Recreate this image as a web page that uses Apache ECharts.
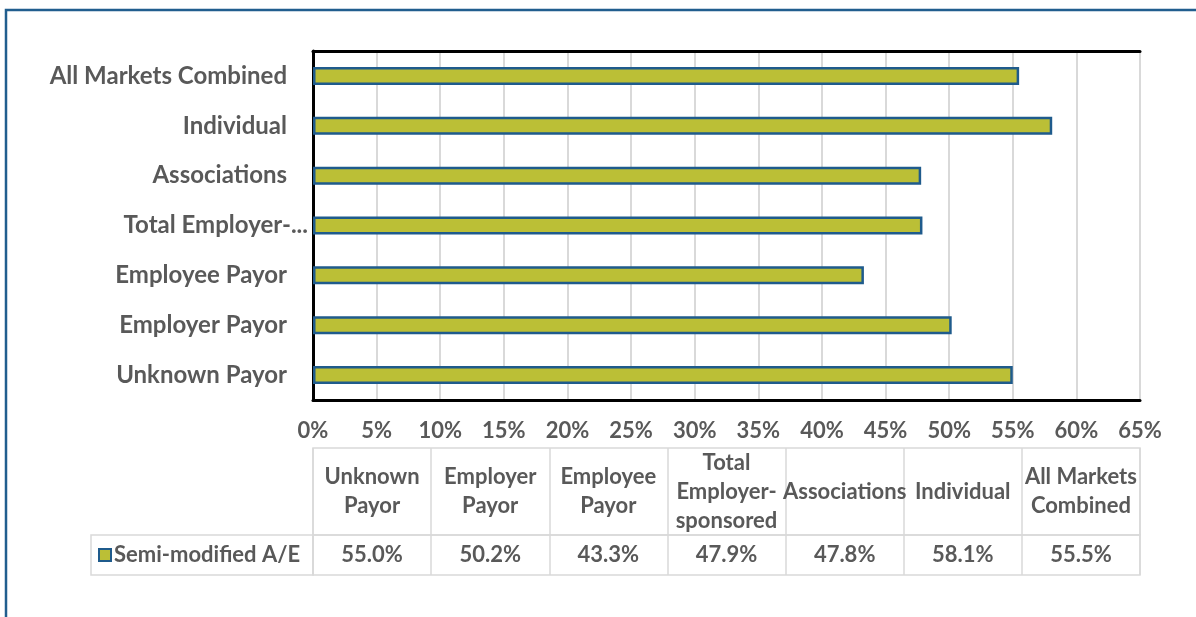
<!DOCTYPE html>
<html>
<head>
<meta charset="utf-8">
<script src="https://cdn.jsdelivr.net/npm/echarts@6/dist/echarts.min.js"></script>
<style>
html,body{margin:0;padding:0;background:#fff;}
#chart{width:1196px;height:617px;}
</style>
</head>
<body>
<div id="chart"></div>
<script>
// Data (category order: bottom-to-top on bar axis, left-to-right in table)
const categories = ['Unknown Payor','Employer Payor','Employee Payor','Total Employer-sponsored','Associations','Individual','All Markets Combined'];
const axisLabels = ['Unknown Payor','Employer Payor','Employee Payor','Total Employer-...','Associations','Individual','All Markets Combined'];
const tableHeaders = ['Unknown\nPayor','Employer\nPayor','Employee\nPayor','Total\nEmployer-\nsponsored','Associations','Individual','All Markets\nCombined'];
const seriesName = 'Semi-modified A/E';
const values = [0.550, 0.502, 0.433, 0.479, 0.478, 0.581, 0.555];
const xTicks = {min: 0, max: 0.65, interval: 0.05};

const FONT = 'Lato';
const TXT = '#595959';
const FILL = '#BBBF36';
const EDGE = '#1F5B8C';
const GRIDC = '#D9D9D9';

const chart = echarts.init(document.getElementById('chart'), null, {renderer: 'canvas'});
const baseText = {fontFamily: FONT, fontWeight: 'bold', fontSize: 22, color: TXT};
const catText = {fontFamily: FONT, fontWeight: 'bold', fontSize: 24, color: TXT};

const option = {
  backgroundColor: '#fff',
  animation: false,
  textStyle: {fontFamily: FONT},
  grid: [
    {left: 313, right: 56, top: 51, bottom: 217, containLabel: false},
    {left: 313, right: 56, top: 448, height: 87, show: true, borderColor: GRIDC, borderWidth: 1.5, backgroundColor: 'transparent'},
    {left: 313, right: 56, top: 535, height: 40, show: true, borderColor: GRIDC, borderWidth: 1.5, backgroundColor: 'transparent'}
  ],
  legend: {
    data: [seriesName],
    left: 93, top: 539,
    icon: 'rect', itemWidth: 12, itemHeight: 12,
    textStyle: Object.assign({}, baseText, {padding: [0,0,0,-2]}),
    selectedMode: false
  },
  xAxis: [
    {
      gridIndex: 0, type: 'value', min: xTicks.min, max: xTicks.max, interval: xTicks.interval,
      axisLine: {show: true, lineStyle: {color: '#000', width: 3}},
      axisTick: {show: false},
      splitLine: {show: true, lineStyle: {color: GRIDC, width: 2}},
      axisLabel: Object.assign({}, baseText, {margin: 20, formatter: v => Math.round(v*100) + '%'})
    },
    {
      gridIndex: 0, type: 'value', position: 'top', min: xTicks.min, max: xTicks.max, interval: xTicks.interval,
      axisLine: {show: true, lineStyle: {color: '#000', width: 3}},
      axisTick: {show: false}, axisLabel: {show: false}, splitLine: {show: false}
    },
    {
      gridIndex: 1, type: 'category', data: categories, position: 'top',
      axisLine: {show: false}, axisTick: {show: false},
      splitLine: {show: true, interval: 0, lineStyle: {color: GRIDC, width: 1.5}},
      axisLabel: Object.assign({}, baseText, {inside: true, interval: 0, margin: 43.5, verticalAlign: 'middle', lineHeight: 29,
        formatter: (v, i) => tableHeaders[i]})
    },
    {
      gridIndex: 2, type: 'category', data: categories, position: 'top',
      axisLine: {show: false}, axisTick: {show: false},
      splitLine: {show: true, interval: 0, lineStyle: {color: GRIDC, width: 1.5}},
      axisLabel: Object.assign({}, baseText, {inside: true, interval: 0, margin: 20, verticalAlign: 'middle',
        formatter: (v, i) => (values[i]*100).toFixed(1) + '%'})
    }
  ],
  yAxis: [
    {
      gridIndex: 0, type: 'category', data: categories,
      axisLine: {show: false}, axisTick: {show: false},
      axisLabel: Object.assign({}, catText, {
        margin: 5, interval: 0,
        formatter: (v, i) => axisLabels[i] === categories[i] ? '{a|' + axisLabels[i] + '}' : '{b|' + axisLabels[i] + '}',
        rich: {
          a: Object.assign({}, catText, {padding: [0, 21, 0, 0]}),
          b: Object.assign({}, catText)
        }
      })
    },
    {
      gridIndex: 0, type: 'category', data: categories, position: 'right',
      axisLine: {show: true, lineStyle: {color: '#000', width: 3}},
      axisTick: {show: false}, axisLabel: {show: false}
    },
    {gridIndex: 1, type: 'value', show: false},
    {gridIndex: 2, type: 'value', show: false}
  ],
  series: [
    {
      name: seriesName, type: 'bar', xAxisIndex: 0, yAxisIndex: 0,
      data: values, barWidth: 18,
      itemStyle: {color: FILL, borderColor: EDGE, borderWidth: 2.5}
    }
  ],
  graphic: [
    {type: 'rect', shape: {x: 6, y: 10, width: 1200, height: 620}, style: {fill: 'none', stroke: '#215E8E', lineWidth: 2.5}, silent: true, z: 100},
    {type: 'rect', shape: {x: 91, y: 535, width: 222, height: 40}, style: {fill: 'none', stroke: GRIDC, lineWidth: 1.5}, silent: true}
  ]
};
chart.setOption(option);
</script>
</body>
</html>
